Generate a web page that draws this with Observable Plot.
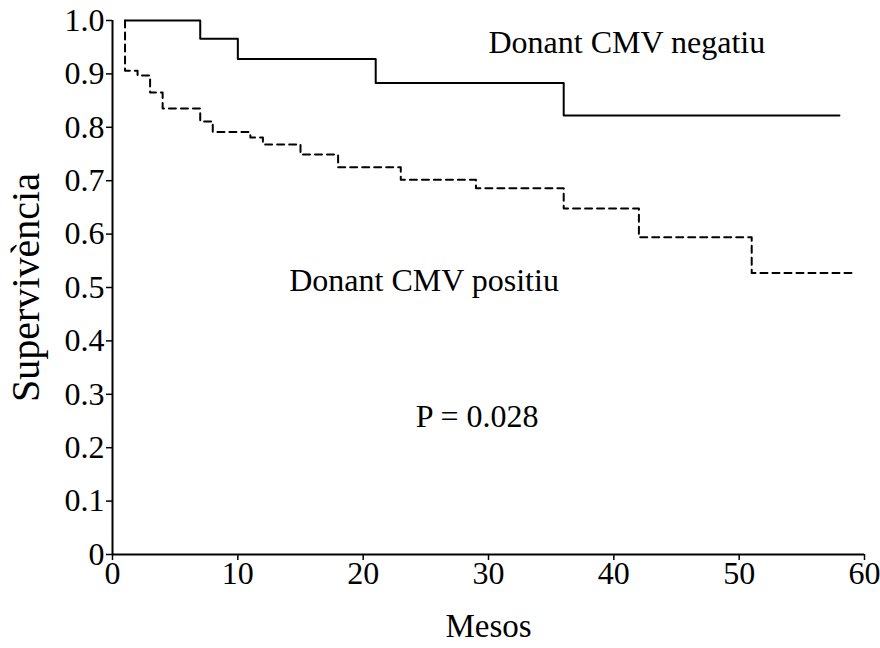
<!DOCTYPE html>
<html><head><meta charset="utf-8">
<script src="https://cdn.jsdelivr.net/npm/d3@7"></script>
<script src="https://cdn.jsdelivr.net/npm/@observablehq/plot@0.6"></script>
<style>body{margin:0;background:#fff}</style>
</head><body><div id="chart"></div>
<script>
const negMonths = [1, 7, 10, 21, 36, 58];
const negSurv   = [1.0, 0.966, 0.928, 0.883, 0.822, 0.822];
const posMonths = [1, 1, 2, 3, 4, 7, 8, 11, 12, 15, 18, 23, 29, 36, 42, 51, 59];
const posSurv   = [1.0, 0.906, 0.897, 0.865, 0.835, 0.811, 0.791, 0.781, 0.768, 0.749, 0.725, 0.702, 0.686, 0.648, 0.594, 0.527, 0.527];
const xTicks = [0, 10, 20, 30, 40, 50, 60];
const yTicks = [0, 0.1, 0.2, 0.3, 0.4, 0.5, 0.6, 0.7, 0.8, 0.9, 1.0];
const annoText = ["Donant CMV negatiu", "Donant CMV positiu", "P = 0.028"];
const annoX = [30.0, 14.1, 24.2];
const annoY = [0.959, 0.513, 0.258];

const neg = negMonths.map((m, i) => ({m, s: negSurv[i]}));
const pos = posMonths.map((m, i) => ({m, s: posSurv[i]}));
const anno = annoText.map((t, i) => ({t, x: annoX[i], y: annoY[i]}));
const font = "'Liberation Serif', 'Times New Roman', serif";

const chart = Plot.plot({
  width: 880, height: 648,
  marginLeft: 112, marginTop: 20, marginBottom: 94, marginRight: 16,
  style: {fontFamily: font, fontSize: "32px", color: "#000", background: "#fff"},
  x: {domain: [0, 60], ticks: xTicks},
  y: {domain: [0, 1], ticks: yTicks},
  marks: [
    Plot.axisX({ticks: xTicks, tickSize: 6, tickPadding: 1, label: null, fontSize: 32, stroke: "#000", strokeWidth: 1.5}),
    Plot.axisY({ticks: yTicks, tickSize: 6, tickPadding: 2, label: null, fontSize: 32, tickFormat: d => d === 0 ? "0" : d.toFixed(1), stroke: "#000", strokeWidth: 1.5}),
    Plot.ruleX([0], {stroke: "#000", strokeWidth: 2}),
    Plot.ruleY([0], {stroke: "#000", strokeWidth: 2}),
    Plot.line(neg, {x: "m", y: "s", curve: "step-after", stroke: "#000", strokeWidth: 2}),
    Plot.line(pos, {x: "m", y: "s", curve: "step-after", stroke: "#000", strokeWidth: 2, strokeDasharray: "7,5"}),
    Plot.text(anno, {x: "x", y: "y", text: "t", textAnchor: "start", fontSize: 32, fill: "#000", fontFamily: font}),
    Plot.text(["Mesos"], {frameAnchor: "bottom", dy: 82, fontSize: 33, fill: "#000", fontFamily: font}),
    Plot.text(["Supervivència"], {frameAnchor: "left", dx: -86, rotate: -90, textAnchor: "middle", fontSize: 40, fill: "#000", fontFamily: font})
  ]
});
document.getElementById("chart").appendChild(chart);
</script>
</body></html>
